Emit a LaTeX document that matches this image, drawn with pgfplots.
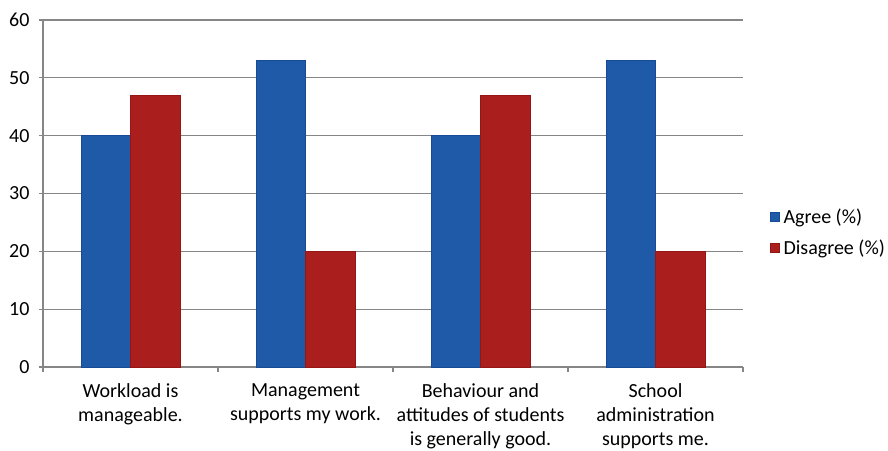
\documentclass[border=0pt]{standalone}
\usepackage{fontspec}
\setmainfont{Carlito}
\usepackage{pgfplots}
\pgfplotsset{compat=1.18}
\definecolor{agree}{RGB}{31,90,168}
\definecolor{agreeb}{RGB}{24,74,150}
\definecolor{disagree}{RGB}{170,30,30}
\definecolor{disagreeb}{RGB}{150,22,22}
\definecolor{gridc}{RGB}{134,134,134}
\begin{document}
\begin{tikzpicture}[font=\fontsize{20}{24}\selectfont]
\path[use as bounding box] (-43pt,-83pt) rectangle (845pt,367pt);
\begin{axis}[
  at={(0pt,0pt)}, anchor=south west,
  scale only axis, width=700pt, height=347pt,
  ybar=0pt, bar width=49.5pt,
  xmin=-0.5, xmax=3.5, ymin=0, ymax=60,
  ytick={0,10,...,60},
  xtick={0,1,2,3},
  xticklabels={{Workload is\\manageable.},{Management\\supports my work.},{Behaviour and\\attitudes of students\\is generally good.},{School\\administration\\supports me.}},
  minor xtick={-0.5,0.5,1.5,2.5,3.5},
  major x tick style={draw=none},
  minor tick length=5pt,
  major tick length=4pt,
  tick align=outside,
  tick style={gridc, line width=1.2pt},
  axis x line*=bottom, axis y line*=left,
  axis line style={gridc, line width=1.2pt, -},
  ymajorgrids, grid style={gridc, line width=1.2pt},
  x tick label style={align=center, font=\fontsize{20}{24}\selectfont, yshift=-9pt},
  y tick label style={font=\fontsize{20}{24}\selectfont, xshift=-6pt},
  /pgf/number format/assume math mode=true,
  legend style={at={(1.034,0.3876)}, anchor=west, draw=none, fill=none,
    font=\fontsize{20}{24}\selectfont, row sep=11pt, legend cell align=left,
    nodes={inner xsep=4pt}},
  legend image code/.code={\fill[#1] (0pt,-4.5pt) rectangle (9pt,4.5pt);},
  clip=false,
]
\addplot[fill=agree, draw=agreeb, line width=0.6pt] coordinates {(0,40) (1,53) (2,40) (3,53)};
\addplot[fill=disagree, draw=disagreeb, line width=0.6pt] coordinates {(0,47) (1,20) (2,47) (3,20)};
\legend{Agree (\%), Disagree (\%)}
\end{axis}
\end{tikzpicture}
\end{document}
